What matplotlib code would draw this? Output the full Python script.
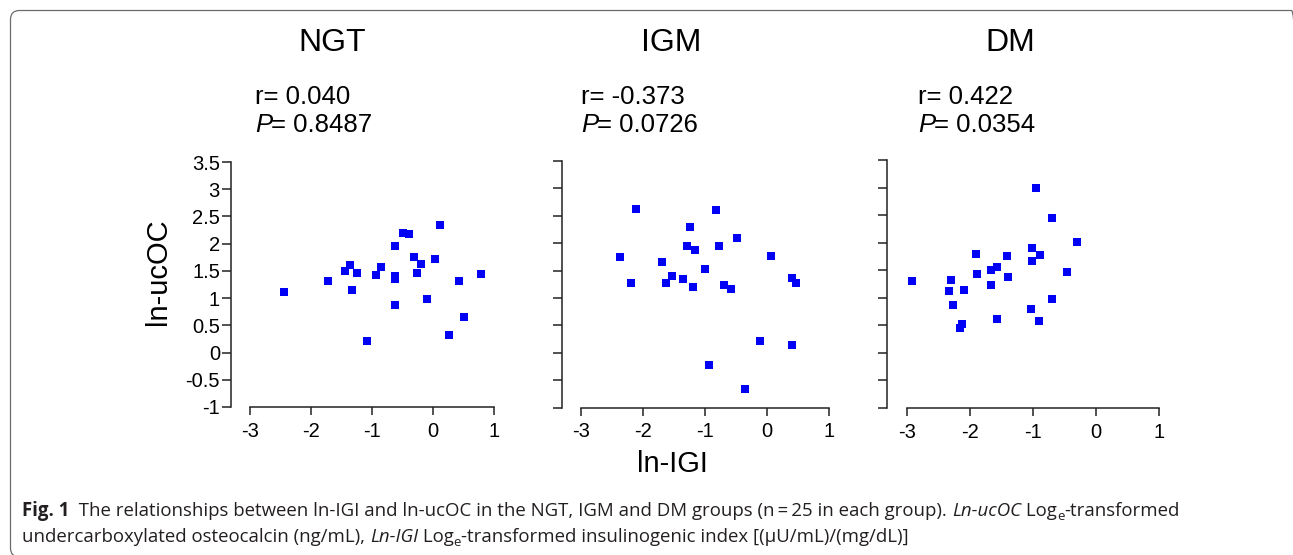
import matplotlib
matplotlib.use("Agg")
import matplotlib.pyplot as plt
from matplotlib import font_manager
from matplotlib.patches import FancyBboxPatch
from matplotlib.transforms import IdentityTransform

# ---------------- data ----------------
groups = ["NGT", "IGM", "DM"]
r_labels = ["r= 0.040", "r= -0.373", "r= 0.422"]
p_labels = ["= 0.8487", "= 0.0726", "= 0.0354"]

ngt_x = [-2.44, -1.72, -1.44, -1.36, -1.24, -1.33, -1.08, -0.93, -0.86, -0.63,
         -0.63, -0.63, -0.63, -0.50, -0.40, -0.31, -0.26, -0.19, -0.10, 0.03,
         0.12, 0.27, 0.43, 0.50, 0.79]
ngt_y = [1.12, 1.32, 1.50, 1.60, 1.47, 1.14, 0.21, 1.42, 1.57, 1.41,
         1.35, 1.96, 0.88, 2.19, 2.17, 1.75, 1.47, 1.62, 0.99, 1.71,
         2.34, 0.33, 1.32, 0.66, 1.44]

igm_x = [-2.38, -2.20, -2.11, -1.69, -1.63, -1.53, -1.35, -1.29, -1.24, -1.20,
         -1.16, -1.00, -0.93, -0.82, -0.77, -0.69, -0.58, -0.48, -0.35, -0.11,
         0.07, 0.41, 0.47, 0.41]
igm_y = [1.75, 1.27, 2.63, 1.66, 1.27, 1.40, 1.35, 1.95, 2.30, 1.20,
         1.88, 1.52, -0.23, 2.60, 1.95, 1.23, 1.17, 2.09, -0.66, 0.22,
         1.77, 1.37, 1.27, 0.15]

dm_x = [-2.92, -2.31, -2.33, -2.27, -2.10, -2.13, -2.16, -1.90, -1.89, -1.67,
        -1.67, -1.57, -1.57, -1.42, -1.40, -1.02, -1.02, -1.04, -0.96, -0.89,
        -0.91, -0.70, -0.70, -0.46, -0.31]
dm_y = [1.30, 1.32, 1.12, 0.87, 1.14, 0.52, 0.45, 1.80, 1.44, 1.51,
        1.23, 1.55, 0.62, 1.75, 1.37, 1.90, 1.67, 0.80, 3.00, 1.77,
        0.57, 2.44, 0.97, 1.47, 2.02]

xs = [ngt_x, igm_x, dm_x]
ys = [ngt_y, igm_y, dm_y]

x_ticks = [-3, -2, -1, 0, 1]
x_ticklabels = ["-3", "-2", "-1", "0", "1"]
y_ticks = [-1, -0.5, 0, 0.5, 1, 1.5, 2, 2.5, 3, 3.5]
y_ticklabels = ["-1", "-0.5", "0", "0.5", "1", "1.5", "2", "2.5", "3", "3.5"]

# ---------------- layout (pixels) ----------------
W, H = 1293, 555
DPI = 100
# per panel: y-axis px, x=-3 px, x=1 px, y=3.5 px, y=-1 px
panel_px = [(231, 250.0, 494.0, 162.0, 407.0),
            (562, 581.3, 828.7, 161.0, 407.5),
            (887, 907.0, 1159.3, 160.0, 408.0)]
title_cx = [332, 671, 1010]
text_left = [255, 581, 918]

fonts = font_manager.fontManager.ttflist
names = {f.name for f in fonts}
chart_font = "Liberation Sans" if "Liberation Sans" in names else "DejaVu Sans"

def has_bold(fam):
    for f in fonts:
        if f.name == fam and (f.weight in ("bold", 700, "700") or
                              (isinstance(f.weight, int) and f.weight >= 600)):
            return True
    return False

cap_font = "DejaVu Sans"
for cand in ["Open Sans", "Noto Sans", "Lato", "Roboto"]:
    if cand in names and has_bold(cand):
        cap_font = cand
        break

plt.rcParams["font.family"] = [chart_font, "DejaVu Sans"]

fig = plt.figure(figsize=(W / DPI, H / DPI), dpi=DPI)
fig.patch.set_facecolor("white")

def fx(px):
    return px / W

def fy(py):
    return 1 - py / H

for i in range(3):
    ax_px, xm3, x1, yt, yb = panel_px[i]
    s = (x1 - xm3) / 4.0
    xl = -3 - (xm3 - ax_px) / s
    xr = 1.03
    ax = fig.add_axes([fx(ax_px), (H - yb) / H, (xr - xl) * s / W, (yb - yt) / H])
    ax.set_facecolor("none")
    ax.plot(xs[i], ys[i], linestyle="none", marker="s", markersize=5.5,
            markeredgewidth=0, color="#0000f5", clip_on=False)
    ax.set_xlim(xl, xr)
    ax.set_ylim(-1, 3.5)
    for sp in ["top", "right"]:
        ax.spines[sp].set_visible(False)
    ax.spines["left"].set_bounds(-1, 3.5)
    ax.spines["bottom"].set_bounds(-3, 1)
    for sp in ["left", "bottom"]:
        ax.spines[sp].set_linewidth(1.1)
        ax.spines[sp].set_color("#222222")
    ax.set_xticks(x_ticks)
    ax.set_xticklabels(x_ticklabels)
    ax.set_yticks(y_ticks)
    ax.set_yticklabels(y_ticklabels)
    ax.tick_params(axis="both", direction="out", width=1.1, color="#222222",
                   labelsize=14.5, labelcolor="black")
    ax.tick_params(axis="y", length=6.5, pad=1.5)
    ax.tick_params(axis="x", length=5.5, pad=5)
    if i > 0:
        ax.tick_params(axis="y", labelleft=False)

    fig.text(fx(title_cx[i]), fy(43), groups[i], ha="center", va="center",
             fontsize=23, color="black")
    fig.text(fx(text_left[i]), fy(104), r_labels[i], ha="left", va="baseline",
             fontsize=18.5, color="black")
    tP = fig.text(fx(text_left[i]), fy(131.5), "P", ha="left", va="baseline",
                  fontsize=18.5, style="italic", color="black")
    fig.canvas.draw()
    bb = tP.get_window_extent()
    fig.text(bb.x1 / W - 0.0005, fy(131.5), p_labels[i], ha="left", va="baseline",
             fontsize=18.5, color="black")

fig.text(fx(158), fy(272), "ln-ucOC", rotation=90, ha="center", va="center",
         fontsize=21, color="black")
fig.text(fx(672.5), fy(464), "ln-IGI", ha="center", va="center",
         fontsize=21, color="black")

# ---------------- caption ----------------
line1 = [("Fig. 1", "bold", False),
         ("  The relationships between ln-IGI and ln-ucOC in the NGT, IGM and DM groups (n\u2009=\u200925 in each group). ", "normal", False),
         ("Ln-ucOC", "italic", False),
         (" Log", "normal", False),
         ("e", "normal", True),
         ("-transformed", "normal", False)]
line2 = [("undercarboxylated osteocalcin (ng/mL), ", "normal", False),
         ("Ln-IGI", "italic", False),
         (" Log", "normal", False),
         ("e", "normal", True),
         ("-transformed insulinogenic index [(\u03bcU/mL)/(mg/dL)]", "normal", False)]

cap_color = "#231f20"

def draw_line(pieces, x0, base_py, fs):
    renderer = fig.canvas.get_renderer()
    x = x0
    made = []
    for txt, kind, sub in pieces:
        kw = dict(fontsize=fs * (0.72 if sub else 1.0), color=cap_color,
                  family=[cap_font, "DejaVu Sans"], ha="left", va="baseline")
        if kind == "bold":
            kw["weight"] = "bold"
        if kind == "italic":
            kw["style"] = "italic"
        py = base_py + (fs * 0.3 if sub else 0)
        t = fig.text(x / W, fy(py), txt, **kw)
        made.append(t)
        bb = t.get_window_extent(renderer=renderer)
        x = bb.x1
    return x - x0, made

fs0 = 12.0
wid, made = draw_line(line1, 22, 516, fs0)
for t in made:
    t.remove()
fs = fs0 * 1153.0 / wid
draw_line(line1, 22, 516, fs)
draw_line(line2, 22, 542, fs)

# ---------------- rounded frame ----------------
frame = FancyBboxPatch((10.5, H - 557), 1290, 557 - 10.5,
                       boxstyle="round,pad=0,rounding_size=9",
                       transform=IdentityTransform(), facecolor="none",
                       edgecolor="#6b6b6b", linewidth=0.9, clip_on=False)
fig.patches.append(frame)

fig.savefig("out.png", dpi=DPI)
